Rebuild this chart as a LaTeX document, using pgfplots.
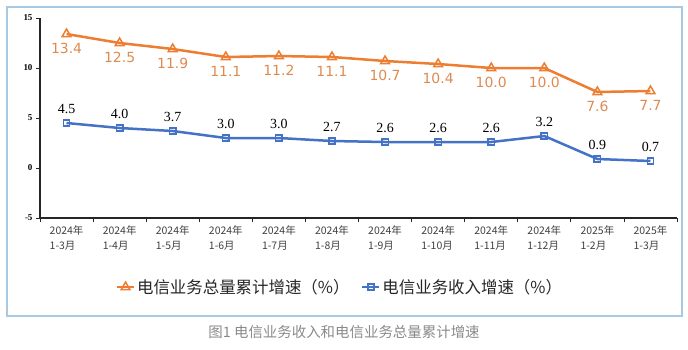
\documentclass[border=0pt]{standalone}
\usepackage{pgfplots}
\pgfplotsset{compat=1.18}
\usepackage{fontspec}
\setmainfont{Liberation Serif}
\newfontfamily\cjk{Noto Sans CJK SC}
\newfontfamily\dv{DejaVu Sans}
\definecolor{orc}{HTML}{ED7D31}
\definecolor{blc}{HTML}{4472C4}
\definecolor{orl}{HTML}{DE8A50}
\definecolor{framec}{HTML}{A9C8E2}
\definecolor{capc}{HTML}{8A8A8A}
\begin{document}
\begin{tikzpicture}[x=1bp,y=1bp]
\path[use as bounding box] (0,0) rectangle (688,-349);
\draw[framec, line width=1.5bp] (7,-7) rectangle (682,-316);
\begin{axis}[at={(40bp,-218bp)}, anchor=south west, scale only axis,
  width=637bp, height=200bp,
  xmin=-0.5, xmax=11.5, ymin=-5, ymax=15,
  axis lines=left, axis line style={black!85, line width=1.2bp, -},
  ytick={-5,0,5,10,15},
  xtick={0,...,11},
  xticklabels={{2024年\\1-3月},{2024年\\1-4月},{2024年\\1-5月},{2024年\\1-6月},{2024年\\1-7月},{2024年\\1-8月},{2024年\\1-9月},{2024年\\1-10月},{2024年\\1-11月},{2024年\\1-12月},{2025年\\1-2月},{2025年\\1-3月}},
  major x tick style={draw=none},
  minor xtick={-0.5,0.5,...,11.5},
  tick align=outside, major tick length=4bp, minor tick length=4bp,
  tick style={black!85, line width=0.8bp},
  /pgf/number format/assume math mode=true,
  yticklabel style={font=\fontsize{9}{9}\selectfont\bfseries},
  xticklabel style={font=\cjk\fontsize{10.5}{15}\selectfont, align=left, text=black!75},
  legend style={at={(0.471,-0.345)}, anchor=center, draw=none, fill=none,
    font=\cjk\fontsize{16.5}{16.5}\selectfont, legend columns=2, text=black!85,
    /tikz/every even column/.append style={column sep=10bp}},
  legend image code/.code={\draw[#1, line width=2bp] (0bp,0bp)--(17bp,0bp); \draw[#1, line width=1.3bp] plot coordinates {(8.5bp,0bp)};},
  clip=false,
]
\addplot[orc, line width=2.5bp, mark=triangle, mark size=5bp,
  mark options={fill=white, line width=1.5bp},
  nodes near coords={\pgfmathprintnumber[fixed,fixed zerofill,precision=1]{\pgfplotspointmeta}},
  every node near coord/.append style={anchor=center, yshift=-14.5bp, font=\dv\fontsize{14}{14}\selectfont, text=orl}]
  coordinates {(0,13.4) (1,12.5) (2,11.9) (3,11.1) (4,11.2) (5,11.1) (6,10.7) (7,10.4) (8,10.0) (9,10.0) (10,7.6) (11,7.7)};
\addlegendentry{电信业务总量累计增速（\%）}
\addplot[blc, line width=2.5bp, mark=square, mark size=3.2bp,
  mark options={fill=white, line width=1.5bp},
  nodes near coords={\pgfmathprintnumber[fixed,fixed zerofill,precision=1]{\pgfplotspointmeta}},
  every node near coord/.append style={anchor=center, yshift=14.5bp, font=\fontsize{14}{14}\selectfont, text=black}]
  coordinates {(0,4.5) (1,4.0) (2,3.7) (3,3.0) (4,3.0) (5,2.7) (6,2.6) (7,2.6) (8,2.6) (9,3.2) (10,0.9) (11,0.7)};
\addlegendentry{电信业务收入增速（\%）}
\end{axis}
\node[font=\cjk\fontsize{14.5}{14.5}\selectfont, text=capc] at (344,-332) {图1 电信业务收入和电信业务总量累计增速};
\end{tikzpicture}
\end{document}
